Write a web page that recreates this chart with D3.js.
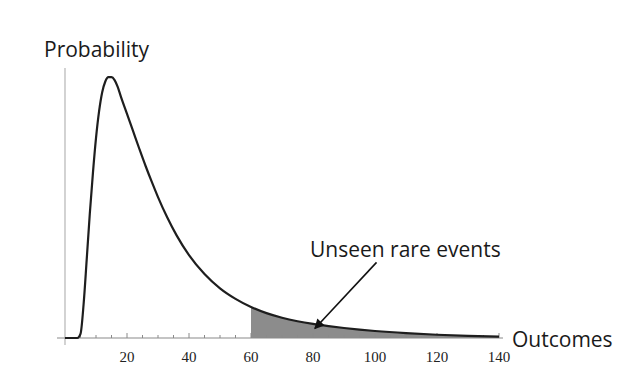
<!DOCTYPE html>
<html>
<head>
<meta charset="utf-8">
<script src="https://cdn.jsdelivr.net/npm/d3@7"></script>
<style>
	body { margin: 0; background: #fff; }
	text.label { font-family: "Open Sans", sans-serif; fill: #1a1a1a; }
	text.tick { font-family: "Liberation Serif", serif; font-size: 15px; fill: #222; }
</style>
</head>
<body>
<svg id="svg"></svg>
<script>
var width = 640, height = 374;

// outcome values and the relative probability
var outcomes = [0, 4, 5, 6, 7, 8, 9, 10, 11, 12, 13, 14, 15, 16, 17, 18, 20, 22, 24, 26, 28, 30,
	33, 36, 40, 45, 50, 55, 60, 65, 70, 75, 80, 85, 90, 95, 100, 110, 120, 130, 140];
var probability = [0, 0, 0.015, 0.125, 0.29, 0.46, 0.61, 0.74, 0.84, 0.91, 0.95, 0.966, 0.966,
	0.955, 0.93, 0.895, 0.83, 0.765, 0.70, 0.637, 0.578, 0.522, 0.446, 0.38, 0.307, 0.237,
	0.184, 0.145, 0.115, 0.092, 0.075, 0.062, 0.052, 0.044, 0.037, 0.031, 0.026, 0.018,
	0.012, 0.008, 0.005];
var tickLabels = [20, 40, 60, 80, 100, 120, 140];
var minorTicks = d3.range(5, 141, 5);
var tailStart = 60;

var svg = d3.select("#svg")
	.attr("width", width)
	.attr("height", height);

var data = outcomes.map(function(d, i) { return {x: d, y: probability[i]}; });

var x = d3.scaleLinear()
	.domain([0, 140])
	.range([65, 499]);

var y = d3.scaleLinear()
	.domain([0, 1])
	.range([338, 68]);

// shaded tail
var area = d3.area()
	.curve(d3.curveMonotoneX)
	.x(function(d) { return x(d.x); })
	.y0(y(0))
	.y1(function(d) { return y(d.y); });

svg.append("path")
	.attr("fill", "#8c8c8c")
	.attr("d", area(data.filter(function(d) { return d.x >= tailStart; })));

// y axis (no ticks)
svg.append("line")
	.attr("x1", x(0)).attr("x2", x(0))
	.attr("y1", y(1)).attr("y2", y(0) + 7)
	.attr("stroke", "#b5b5b5")
	.attr("stroke-width", 1.2);

// x axis
svg.append("line")
	.attr("x1", x(0) - 8).attr("x2", x(140) + 4)
	.attr("y1", y(0)).attr("y2", y(0))
	.attr("stroke", "#8a8a8a")
	.attr("stroke-width", 1.2);

svg.selectAll(".minor")
	.data(minorTicks)
	.enter()
	.append("line")
	.attr("x1", function(d) { return x(d); })
	.attr("x2", function(d) { return x(d); })
	.attr("y1", y(0))
	.attr("y2", function(d) { return y(0) - (d % 20 == 0 ? 5 : 3); })
	.attr("stroke", "#8a8a8a")
	.attr("stroke-width", 1);

svg.selectAll(".tick")
	.data(tickLabels)
	.enter()
	.append("text")
	.attr("class", "tick")
	.attr("x", function(d) { return x(d); })
	.attr("y", y(0) + 24)
	.attr("text-anchor", "middle")
	.text(function(d) { return d; });

// the curve
var line = d3.line()
	.curve(d3.curveMonotoneX)
	.x(function(d) { return x(d.x); })
	.y(function(d) { return y(d.y); });

svg.append("path")
	.attr("fill", "none")
	.attr("stroke", "#1e1e1e")
	.attr("stroke-width", 2.2)
	.attr("stroke-linejoin", "round")
	.attr("d", line(data));

// axis titles
svg.append("text")
	.attr("class", "label")
	.attr("x", 44)
	.attr("y", 57)
	.attr("font-size", "21px")
	.text("Probability");

svg.append("text")
	.attr("class", "label")
	.attr("x", 512)
	.attr("y", 347)
	.attr("font-size", "21px")
	.text("Outcomes");

// annotation
svg.append("defs").append("marker")
	.attr("id", "head")
	.attr("viewBox", "0 0 10 10")
	.attr("refX", 9)
	.attr("refY", 5)
	.attr("markerWidth", 11)
	.attr("markerHeight", 10)
	.attr("markerUnits", "userSpaceOnUse")
	.attr("orient", "auto")
	.append("path")
	.attr("d", "M0,0 L10,5 L0,10 z")
	.attr("fill", "#111");

svg.append("line")
	.attr("x1", x(100.5)).attr("y1", y(0.28))
	.attr("x2", x(80.6)).attr("y2", y(0.035))
	.attr("stroke", "#111")
	.attr("stroke-width", 1.6)
	.attr("marker-end", "url(#head)");

svg.append("text")
	.attr("class", "label")
	.attr("x", 310)
	.attr("y", 257)
	.attr("font-size", "21px")
	.text("Unseen rare events");
</script>
</body>
</html>
